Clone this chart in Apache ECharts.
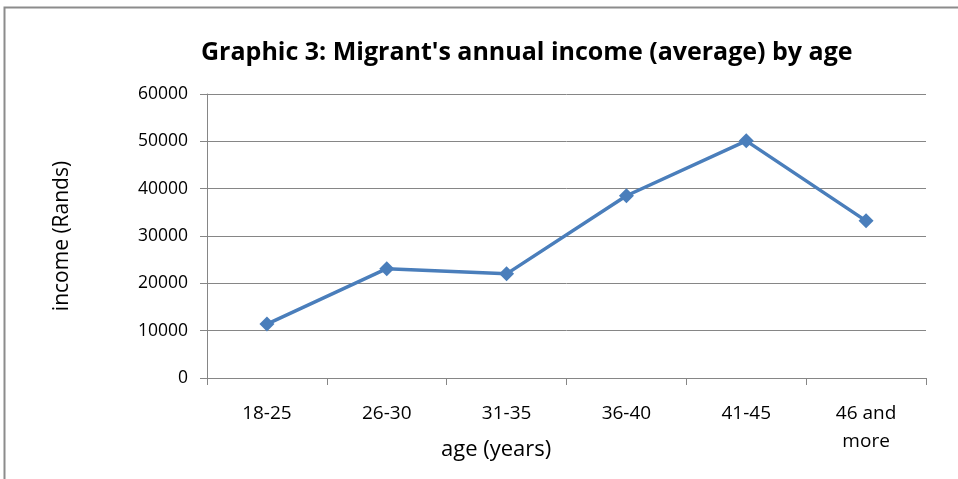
<!DOCTYPE html>
<html>
<head>
<meta charset="utf-8">
<script src="https://cdn.jsdelivr.net/npm/echarts@6/dist/echarts.min.js"></script>
<style>
  html, body { margin: 0; padding: 0; background: #fff; }
  #chart { width: 958px; height: 479px; }
</style>
</head>
<body>
<div id="chart"></div>
<script>
// age groups on the x axis
var ageGroups = ['18-25', '26-30', '31-35', '36-40', '41-45', '46 and\nmore'];
// average annual income (Rands)
var incomeValues = [11400, 23100, 22000, 38500, 50100, 33200];
var yTicks = [0, 10000, 20000, 30000, 40000, 50000, 60000];

var font = '"Open Sans", "Liberation Sans", sans-serif';
var myChart = echarts.init(document.getElementById('chart'));

var option = {
    backgroundColor: '#fff',
    animation: false,
    title: {
        text: "Graphic 3: Migrant's annual income (average) by age",
        left: 196,
        top: 35,
        textStyle: {
            fontFamily: font,
            fontWeight: 'bold',
            fontSize: 25,
            color: '#000'
        }
    },
    graphic: [
        {
            // outer chart frame (only top/left are visible in the crop)
            type: 'rect',
            shape: { x: 4.5, y: 7.5, width: 1000, height: 500 },
            style: { fill: 'none', stroke: '#8c8c8c', lineWidth: 2 },
            silent: true
        },
        {
            type: 'text',
            left: 441,
            top: 439,
            style: {
                text: 'age (years)',
                font: '22px ' + font,
                fill: '#000'
            }
        }
    ],
    grid: {
        left: 207,
        right: 32,
        top: 94,
        bottom: 101,
        containLabel: false
    },
    xAxis: {
        type: 'category',
        data: ageGroups,
        boundaryGap: true,
        axisLine: { show: true, lineStyle: { color: '#868686', width: 1 } },
        axisTick: { show: true, length: 7, alignWithLabel: false, lineStyle: { color: '#868686' } },
        axisLabel: {
            margin: 22,
            fontFamily: font,
            fontSize: 19,
            color: '#000',
            lineHeight: 28,
            interval: 0
        }
    },
    yAxis: {
        type: 'value',
        min: yTicks[0],
        max: yTicks[yTicks.length - 1],
        interval: 10000,
        name: 'income (Rands)',
        nameLocation: 'middle',
        nameGap: 134,
        nameTextStyle: {
            fontFamily: font,
            fontSize: 21,
            color: '#000'
        },
        axisLine: { show: true, lineStyle: { color: '#868686', width: 1 } },
        axisTick: { show: true, length: 7, lineStyle: { color: '#868686' } },
        axisLabel: {
            margin: 19,
            fontFamily: font,
            fontSize: 17.5,
            color: '#000',
            formatter: function (v) { return String(v); }
        },
        splitLine: { show: true, lineStyle: { color: '#868686', width: 1 } }
    },
    series: [
        {
            name: 'income',
            type: 'line',
            data: incomeValues,
            symbol: 'diamond',
            symbolSize: 15,
            lineStyle: { color: '#4a7ebb', width: 3.5 },
            itemStyle: { color: '#4a7ebb' }
        }
    ]
};
myChart.setOption(option);
</script>
</body>
</html>
